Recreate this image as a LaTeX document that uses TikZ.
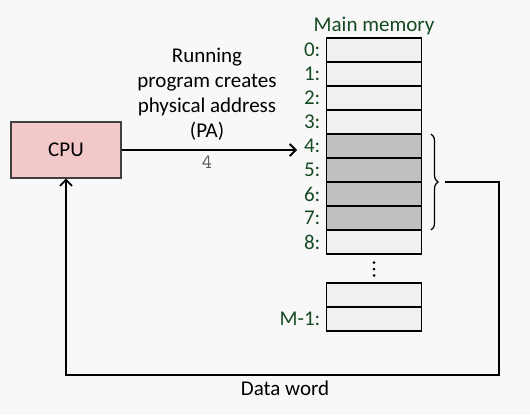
\documentclass[tikz,border=0pt]{standalone}
\usepackage{fontspec}
\setmainfont{Carlito}
\usepackage{xcolor}
\usepackage{tikz}
\usetikzlibrary{arrows.meta,positioning,decorations.pathreplacing}

\definecolor{bgGray}{HTML}{F8F8F8}
\definecolor{cpuPink}{HTML}{F2C8C9}
\definecolor{cellLight}{HTML}{F0F0F0}
\definecolor{cellDark}{HTML}{C0C0C0}
\definecolor{addrGreen}{HTML}{154A22}

\begin{document}
\begin{tikzpicture}[x=1pt, y=-1pt,
    cpubox/.style={draw=black!75, line width=1.3pt, fill=cpuPink,
                   minimum width=110pt, minimum height=56pt, font=\fontsize{21}{25}\selectfont},
    cell/.style={draw, line width=1.8pt, fill=cellLight, outer sep=0pt,
                 minimum width=95pt, minimum height=24pt, inner sep=0pt},
    used/.style={cell, fill=cellDark},
    addr/.style={text=addrGreen, font=\fontsize{21}{25}\selectfont, inner sep=1pt},
    lbl/.style={font=\fontsize{21}{25}\selectfont, align=center},
    dot/.style={circle, fill=black, inner sep=0pt, minimum size=3pt},
    arr/.style={-{Straight Barb[length=6pt,width=12pt]}, line width=1.8pt},
    node distance=0pt
  ]
    % background and page size
    \fill[bgGray] (0,0) rectangle (530,415);
    \useasboundingbox (0,0) rectangle (530,415);

    \node[cpubox] (cpu) at (66,150) {CPU};

    % memory column
    \node[cell] (m0) at (374,50) {};
    \node[cell, below=of m0] (m1) {};
    \node[cell, below=of m1] (m2) {};
    \node[cell, below=of m2] (m3) {};
    \node[used, below=of m3] (m4) {};
    \node[used, below=of m4] (m5) {};
    \node[used, below=of m5] (m6) {};
    \node[used, below=of m6] (m7) {};
    \node[cell, below=of m7] (m8) {};
    \node[dot, below=7pt of m8] (d1) {};
    \node[dot, below=3pt of d1] (d2) {};
    \node[dot, below=3pt of d2] (d3) {};
    \node[cell] (mx) at (374,295) {};
    \node[cell, below=of mx] (mlast) {};

    \node[addr, left=5pt of m0] (a0) {0:};
    \node[addr, left=5pt of m1] (a1) {1:};
    \node[addr, left=5pt of m2] (a2) {2:};
    \node[addr, left=5pt of m3] (a3) {3:};
    \node[addr, left=5pt of m4] (a4) {4:};
    \node[addr, left=5pt of m5] (a5) {5:};
    \node[addr, left=5pt of m6] (a6) {6:};
    \node[addr, left=5pt of m7] (a7) {7:};
    \node[addr, left=5pt of m8] (a8) {8:};
    \node[addr, left=5pt of mlast] (alast) {M-1:};
    \node[addr, above=2pt of m0] (title) {Main memory};

    % address path
    \node[lbl] (pa) at (207,94) {Running\\program creates\\physical address\\(PA)};
    \coordinate (pin) at (297,150);
    \draw[arr] (cpu.east) -- (pin);
    \node[font=\ttfamily\fontsize{20}{22}\selectfont, text=black!65] (four) at (207,162) {4};

    % data word back to the CPU
    \draw[decorate, decoration={brace, amplitude=7pt}, line width=1.2pt]
        (431,134) -- (431,230);
    \coordinate (btip) at (445,182);
    \coordinate (rt) at (499,182);
    \coordinate (rb) at (499,375);
    \coordinate (lb) at (66,375);
    \draw[arr] (btip) -- (rt) -- (rb) -- (lb) -- (cpu.south);
    \node[lbl] (dw) at (285,388) {Data word};
\end{tikzpicture}
\end{document}
